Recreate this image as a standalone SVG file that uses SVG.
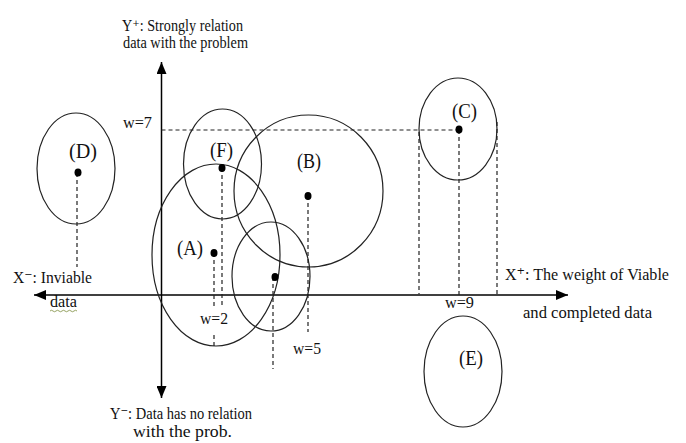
<svg xmlns="http://www.w3.org/2000/svg" width="686" height="443" viewBox="0 0 686 443">
<style>
  .ell { fill: none; stroke: #222; stroke-width: 1.2; }
  .dash { fill: none; stroke: #222; stroke-width: 1.2; stroke-dasharray: 4 3; }
  .axis { fill: none; stroke: #000; stroke-width: 1.5; }
  .dot { fill: #000; }
  text { font-family: "Liberation Serif", "Times New Roman", "DejaVu Serif", serif; fill: #111; }
  .lbl { font-size: 22px; }
  .w { font-size: 17px; }
  .t { font-size: 17px; }
  .t2 { font-size: 16px; }
</style>
<defs>
  <marker id="arr" viewBox="0 0 12 10" refX="12" refY="5" markerWidth="12" markerHeight="10" markerUnits="userSpaceOnUse" orient="auto-start-reverse">
    <path d="M0,0 L12,5 L0,10 z" fill="#000"/>
  </marker>
</defs>
<rect width="686" height="443" fill="#fff"/>

<g id="axes">
  <line class="axis" x1="161.5" y1="398" x2="161.5" y2="62" marker-start="url(#arr)" marker-end="url(#arr)"/>
  <line class="axis" x1="34" y1="295" x2="568" y2="295" marker-start="url(#arr)" marker-end="url(#arr)"/>
</g>

<g id="connectors">
  <line class="dash" x1="161.5" y1="130" x2="459" y2="130"/>
  <line class="dash" x1="77" y1="173" x2="77" y2="267"/>
  <line class="dash" x1="214" y1="253" x2="214" y2="306"/>
  <line class="dash" x1="214" y1="335" x2="214" y2="346"/>
  <line class="dash" x1="222" y1="168" x2="222" y2="306"/>
  <line class="dash" x1="308" y1="196" x2="308" y2="332"/>
  <line class="dash" x1="273" y1="277" x2="273" y2="369"/>
  <line class="dash" x1="419" y1="132" x2="419" y2="294"/>
  <line class="dash" x1="497" y1="122" x2="497" y2="294"/>
  <line class="dash" x1="459" y1="130" x2="459" y2="295"/>
</g>

<g id="node-D">
  <ellipse class="ell" cx="76" cy="168.5" rx="39" ry="55.5"/>
  <ellipse class="dot" cx="78" cy="172.5" rx="3.5" ry="4"/>
  <text class="lbl" x="69" y="158" textLength="28" lengthAdjust="spacingAndGlyphs">(D)</text>
</g>

<g id="node-A">
  <ellipse class="ell" cx="216" cy="255" rx="64" ry="91"/>
  <ellipse class="dot" cx="214" cy="253" rx="3.5" ry="4"/>
  <text class="lbl" x="177" y="255" textLength="26" lengthAdjust="spacingAndGlyphs">(A)</text>
</g>

<g id="node-F">
  <ellipse class="ell" cx="222.5" cy="164" rx="39" ry="55"/>
  <ellipse class="dot" cx="222" cy="168" rx="3.5" ry="4"/>
  <text class="lbl" x="210" y="157" textLength="23" lengthAdjust="spacingAndGlyphs">(F)</text>
</g>

<g id="node-B">
  <ellipse class="ell" cx="308.5" cy="191" rx="74.5" ry="76"/>
  <ellipse class="dot" cx="308" cy="196" rx="3.5" ry="4"/>
  <text class="lbl" x="297" y="168" textLength="24" lengthAdjust="spacingAndGlyphs">(B)</text>
</g>

<g id="node-G">
  <ellipse class="ell" cx="271" cy="276.5" rx="39" ry="54.5"/>
  <ellipse class="dot" cx="275" cy="277" rx="3.5" ry="4"/>
</g>

<g id="node-C">
  <ellipse class="ell" cx="458" cy="129" rx="39" ry="51"/>
  <ellipse class="dot" cx="459" cy="129.5" rx="3.5" ry="4"/>
  <text class="lbl" x="452" y="118" textLength="25" lengthAdjust="spacingAndGlyphs">(C)</text>
</g>

<g id="node-E">
  <ellipse class="ell" cx="463" cy="371.5" rx="39" ry="55.5"/>
  <text class="lbl" x="459" y="365" textLength="24" lengthAdjust="spacingAndGlyphs">(E)</text>
</g>

<g id="weights">
  <text class="w" x="123" y="128" textLength="29" lengthAdjust="spacingAndGlyphs">w=7</text>
  <text class="w" x="200" y="324" textLength="28" lengthAdjust="spacingAndGlyphs">w=2</text>
  <text class="w" x="293" y="354" textLength="28" lengthAdjust="spacingAndGlyphs">w=5</text>
  <text class="w" x="445" y="308" textLength="29" lengthAdjust="spacingAndGlyphs">w=9</text>
</g>

<g id="axis-labels">
  <text class="t2"><tspan x="122" y="31" textLength="121" lengthAdjust="spacingAndGlyphs">Y⁺: Strongly relation</tspan><tspan x="123" y="47.5" textLength="125" lengthAdjust="spacingAndGlyphs">data with the problem</tspan></text>
  <text class="t"><tspan x="110" y="419" textLength="142" lengthAdjust="spacingAndGlyphs">Y⁻: Data has no relation</tspan><tspan x="133" y="437" textLength="99" lengthAdjust="spacingAndGlyphs">with the prob.</tspan></text>
  <text class="t"><tspan x="13" y="283" textLength="79" lengthAdjust="spacingAndGlyphs">X⁻: Inviable</tspan><tspan x="50" y="307" textLength="27" lengthAdjust="spacingAndGlyphs">data</tspan></text>
  <path d="M50,311 q1.5,-1.5 3,0 t3,0 t3,0 t3,0 t3,0 t3,0 t3,0 t3,0 t3,0" fill="none" stroke="#7a8a3a" stroke-width="0.8"/>
  <text class="t" x="505" y="280" textLength="164" lengthAdjust="spacingAndGlyphs">X⁺: The weight of Viable</text>
  <text class="t" x="523" y="318" textLength="129" lengthAdjust="spacingAndGlyphs">and completed data</text>
</g>
</svg>
